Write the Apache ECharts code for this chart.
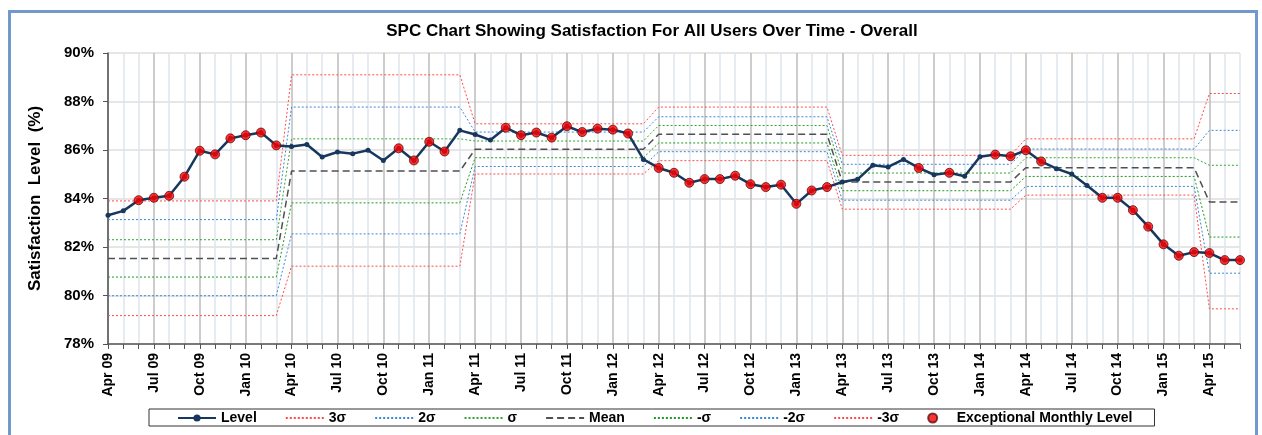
<!DOCTYPE html>
<html>
<head>
<meta charset="utf-8">
<title>SPC Chart</title>
<script src="https://cdn.jsdelivr.net/npm/echarts@6/dist/echarts.min.js"></script>
<style>
  html, body { margin: 0; padding: 0; background: #fff; }
  #chart { position: absolute; left: 0; top: 0; width: 1262px; height: 435px; }
  #frame {
    position: absolute; left: 8px; top: 10px; width: 1244px; height: 440px;
    border: 3px solid #7399cc; pointer-events: none;
  }
</style>
</head>
<body>
<div id="chart"></div>
<div id="frame"></div>
<script>
// ===== Data =====
const months = [
  'Apr 09','May 09','Jun 09','Jul 09','Aug 09','Sep 09','Oct 09','Nov 09','Dec 09','Jan 10','Feb 10','Mar 10',
  'Apr 10','May 10','Jun 10','Jul 10','Aug 10','Sep 10','Oct 10','Nov 10','Dec 10','Jan 11','Feb 11','Mar 11',
  'Apr 11','May 11','Jun 11','Jul 11','Aug 11','Sep 11','Oct 11','Nov 11','Dec 11','Jan 12','Feb 12','Mar 12',
  'Apr 12','May 12','Jun 12','Jul 12','Aug 12','Sep 12','Oct 12','Nov 12','Dec 12','Jan 13','Feb 13','Mar 13',
  'Apr 13','May 13','Jun 13','Jul 13','Aug 13','Sep 13','Oct 13','Nov 13','Dec 13','Jan 14','Feb 14','Mar 14',
  'Apr 14','May 14','Jun 14','Jul 14','Aug 14','Sep 14','Oct 14','Nov 14','Dec 14','Jan 15','Feb 15','Mar 15',
  'Apr 15','May 15','Jun 15'
];

// monthly satisfaction level (%)
const level = [
  83.31, 83.49, 83.93, 84.03, 84.11, 84.90, 85.97, 85.82, 86.48, 86.61, 86.72, 86.19,
  86.14, 86.23, 85.71, 85.92, 85.85, 85.99, 85.57, 86.07, 85.57, 86.34, 85.94, 86.81,
  86.64, 86.41, 86.92, 86.61, 86.72, 86.51, 86.98, 86.74, 86.88, 86.84, 86.68, 85.61,
  85.26, 85.06, 84.65, 84.80, 84.80, 84.94, 84.59, 84.47, 84.57, 83.78, 84.33, 84.47,
  84.68, 84.79, 85.37, 85.30, 85.61, 85.26, 84.98, 85.06, 84.92, 85.72, 85.81, 85.74,
  85.99, 85.53, 85.23, 85.01, 84.54, 84.03, 84.03, 83.52, 82.84, 82.11, 81.64, 81.79,
  81.75, 81.46, 81.46
];

// months flagged as exceptional (index into months)
const exceptionalIdx = [
  2, 3, 4, 5, 6, 7, 8, 9, 10, 11,
  19, 20, 21, 22,
  26, 27, 28, 29, 30, 31, 32, 33, 34,
  36, 37, 38, 39, 40, 41, 42, 43, 44, 45, 46, 47,
  53, 55, 58, 59, 60, 61,
  65, 66, 67, 68, 69, 70, 71, 72, 73, 74
];

// control limit periods (first month index of each period)
const periodStart = [0, 12, 24, 36, 48, 60, 72];
const ucl3  = [83.90, 89.10, 87.08, 87.77, 85.78, 86.46, 88.33];
const ucl2  = [83.13, 87.77, 86.74, 87.37, 85.41, 86.04, 86.81];
const ucl1  = [82.30, 86.46, 86.37, 87.01, 85.05, 85.68, 85.37];
const mean  = [81.53, 85.13, 86.03, 86.65, 84.68, 85.27, 83.86];
const lcl1  = [80.76, 83.82, 85.68, 86.29, 84.32, 84.91, 82.41];
const lcl2  = [79.99, 82.54, 85.32, 85.93, 83.93, 84.50, 80.92];
const lcl3  = [79.17, 81.21, 85.01, 85.56, 83.56, 84.14, 79.45];

// ===== Helpers =====
function expand(periodVals) {
  return months.map((m, i) => {
    let p = 0;
    while (p + 1 < periodStart.length && i >= periodStart[p + 1]) p++;
    return periodVals[p];
  });
}

const FONT = '"Liberation Sans", Arial, sans-serif';
const RED = '#ff4a4a', BLUE = '#3b87d6', GREEN = '#33a333', GREEN2 = '#1f9a1f';

function limitSeries(name, vals, color, type, width) {
  return {
    name, type: 'line', data: expand(vals),
    showSymbol: false, symbol: 'none', silent: true, z: 2,
    lineStyle: { color, width: width || 1, type: type || [2, 2] },
    itemStyle: { color }
  };
}

// legend entry for a limit line: line only, no dot
function limitLegend(name) {
  return { name, itemStyle: { opacity: 0 } };
}

const exceptionalData = months.map((m, i) => exceptionalIdx.includes(i) ? level[i] : null);

// ===== Chart =====
const chart = echarts.init(document.getElementById('chart'), null, { renderer: 'canvas' });

chart.setOption({
  animation: false,
  backgroundColor: 'transparent',
  textStyle: { fontFamily: FONT },
  title: {
    text: 'SPC Chart Showing Satisfaction For All Users Over Time - Overall',
    left: 647, top: 18, textAlign: 'center',
    textStyle: { fontFamily: FONT, fontSize: 17, fontWeight: 'bold', color: '#000' }
  },
  grid: { left: 108, right: 22, top: 53, bottom: 91, containLabel: false },
  legend: {
    left: 149, top: 409,
    padding: [2, 22, 1, 28],
    borderColor: '#333', borderWidth: 1,
    itemWidth: 38, itemHeight: 9, itemGap: 28,
    textStyle: { fontFamily: FONT, fontSize: 14, fontWeight: 'bold', color: '#000' },
    data: [
      'Level',
      limitLegend('3σ'), limitLegend('2σ'), limitLegend('σ'), limitLegend('Mean'),
      limitLegend('-σ'), limitLegend('-2σ'), limitLegend('-3σ'),
      { name: 'Exceptional Monthly Level', icon: 'circle' }
    ]
  },
  xAxis: {
    type: 'category', data: months, boundaryGap: false,
    axisLine: { lineStyle: { color: '#555', width: 1.5 } },
    axisTick: { show: true, interval: 0, length: 5, lineStyle: { color: '#555' } },
    axisLabel: {
      interval: 2, rotate: 90, margin: 9,
      fontFamily: FONT, fontSize: 14, fontWeight: 'bold', color: '#000'
    },
    splitLine: {
      show: true, interval: 0,
      lineStyle: { color: ['#bdbdbd', '#dde4ec', '#dde4ec'], width: 1.5 }
    }
  },
  yAxis: {
    type: 'value', min: 78, max: 90, interval: 2,
    name: 'Satisfaction  Level  (%)', nameLocation: 'middle', nameGap: 64,
    nameTextStyle: { fontFamily: FONT, fontSize: 17, fontWeight: 'bold', color: '#000' },
    axisLine: { show: true, lineStyle: { color: '#555', width: 1.5 } },
    axisTick: { show: true, length: 5, lineStyle: { color: '#555' } },
    axisLabel: {
      formatter: '{value}%', margin: 14,
      fontFamily: FONT, fontSize: 15, fontWeight: 'bold', color: '#000'
    },
    splitLine: { show: true, lineStyle: { color: '#dedede', width: 1.5 } }
  },
  series: [
    {
      name: 'Level', type: 'line', data: level, z: 5,
      symbol: 'circle', symbolSize: 5, showSymbol: true,
      lineStyle: { color: '#17375e', width: 2.5 },
      itemStyle: { color: '#17375e' }
    },
    limitSeries('3σ', ucl3, RED),
    limitSeries('2σ', ucl2, BLUE),
    limitSeries('σ', ucl1, GREEN),
    limitSeries('Mean', mean, '#505050', [7, 4], 1.5),
    limitSeries('-σ', lcl1, GREEN2),
    limitSeries('-2σ', lcl2, BLUE),
    limitSeries('-3σ', lcl3, RED),
    {
      name: 'Exceptional Monthly Level', type: 'scatter', data: exceptionalData, z: 6,
      symbol: 'circle', symbolSize: 9,
      itemStyle: { color: '#ff0000', borderColor: '#5a1010', borderWidth: 1 }
    }
  ]
});
</script>
</body>
</html>
